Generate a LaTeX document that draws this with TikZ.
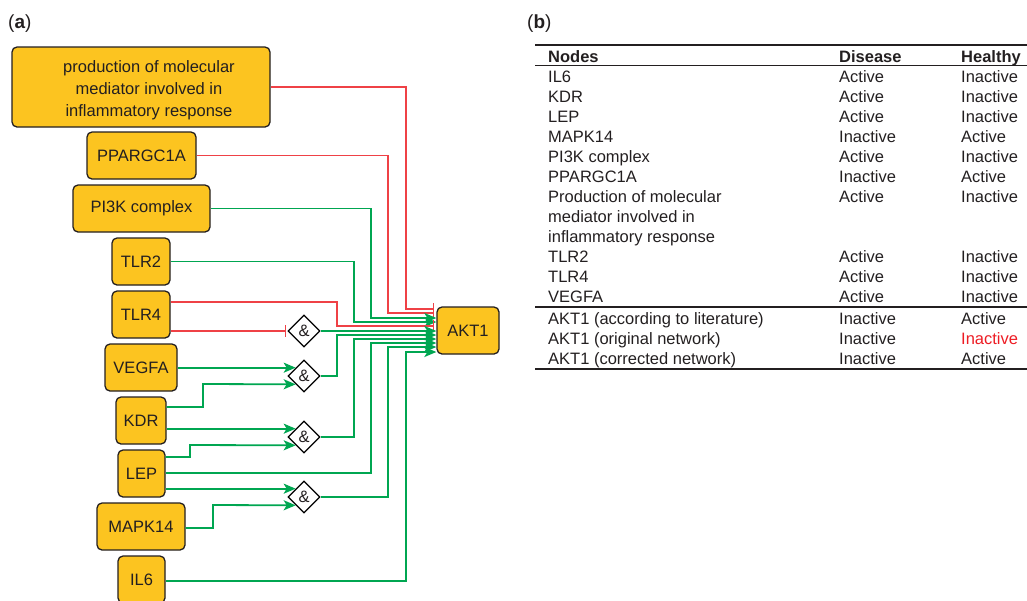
\documentclass[tikz,border=0pt]{standalone}
\usepackage{fontspec}
\setmainfont{Liberation Sans}
\usetikzlibrary{arrows.meta,shapes.geometric,calc}
\definecolor{boxfill}{RGB}{252,196,32}
\definecolor{grn}{RGB}{0,166,81}
\definecolor{rd}{RGB}{239,65,70}
\definecolor{txt}{RGB}{35,31,32}
\definecolor{tred}{RGB}{237,28,36}
\begin{document}
\begin{tikzpicture}[x=1pt,y=-1pt,
  font=\fontsize{16.5}{22}\selectfont, text=txt,
  gene/.style={draw=txt, line width=1.3pt, fill=boxfill, rounded corners=5pt,
    minimum height=47pt, inner sep=0pt, align=center},
  andgate/.style={diamond, draw=black, line width=1.3pt, fill=white,
    minimum width=32pt, minimum height=32pt, inner sep=0pt},
  act/.style={grn, line width=1.8pt, -{Stealth[length=12pt,width=10pt,inset=3pt]}},
  inh/.style={rd, line width=1.8pt, -{Bar[width=12pt,line width=1.6pt]}},
  cell/.style={anchor=base west, inner sep=0pt},
  rulel/.style={line width=1.7pt, draw=txt}]
\useasboundingbox (0,0) rectangle (1027,600);

% panel labels
\node[anchor=base west, inner sep=0pt, font=\fontsize{19}{22}\selectfont] (la) at (8,28) {(\textbf{a})};
\node[anchor=base west, inner sep=0pt, font=\fontsize{19}{22}\selectfont] (lb) at (527,28) {(\textbf{b})};

% genes
\node[gene, minimum width=258pt, minimum height=80pt] (big) at (141,87) {\rule{0pt}{18pt}\hspace*{16pt}production of molecular\\\hspace*{16pt}mediator involved in\\\hspace*{16pt}inflammatory response};
\node[gene, minimum width=109pt] (ppar) at (141.5,155.5) {PPARGC1A};
\node[gene, minimum width=137pt] (pi3k) at (141.5,208.5) {PI3K complex};
\node[gene, minimum width=58pt] (tlr2) at (141,261.5) {TLR2};
\node[gene, minimum width=58pt] (tlr4) at (141,314.5) {TLR4};
\node[gene, minimum width=72pt] (vegfa) at (141,367.5) {VEGFA};
\node[gene, minimum width=50pt] (kdr) at (141,420.5) {KDR};
\node[gene, minimum width=47pt] (lep) at (141.5,473.5) {LEP};
\node[gene, minimum width=88pt] (mapk) at (141,526.5) {MAPK14};
\node[gene, minimum width=47pt] (il6) at (141.5,579.5) {IL6};
\node[gene, minimum width=62pt] (akt) at (468,330.5) {AKT1};

% and gates
\node[andgate] (g1) at (304,331) {\&};
\node[andgate] (g2) at (304,376) {\&};
\node[andgate] (g3) at (304,437) {\&};
\node[andgate] (g4) at (304,497) {\&};
\foreach \g in {g2,g3,g4}{
  \coordinate (\g a) at ($(\g.west)!0.5!(\g.north)$);
  \coordinate (\g b) at ($(\g.west)!0.5!(\g.south)$);
}

% entry points on AKT1
\coordinate (e1) at ([shift={(-2,-21.5)}]akt.west);
\coordinate (e2) at ([shift={(-2,-17.5)}]akt.west);
\coordinate (e3) at ([shift={(0,-12.5)}]akt.west);
\coordinate (e4) at ([shift={(0,-8.5)}]akt.west);
\coordinate (e5) at ([shift={(-2,-4.5)}]akt.west);
\coordinate (e6) at ([shift={(0,0.5)}]akt.west);
\coordinate (e7) at ([shift={(0,4.5)}]akt.west);
\coordinate (e8) at ([shift={(0,8.5)}]akt.west);
\coordinate (e9) at ([shift={(0,12.5)}]akt.west);
\coordinate (e10) at ([shift={(0,16.5)}]akt.west);
\coordinate (e11) at ([shift={(0,21.5)}]akt.west);

% connectors to AKT1
\draw[inh] (big.east) -| (406,309) -- (e1);
\draw[inh] (ppar.east) -| (388,313) -- (e2);
\draw[act] (pi3k.east) -| (371,318) -- (e3);
\draw[act] (tlr2.east) -| (354,322) -- (e4);
\draw[inh] ([shift={(0,-12.5)}]tlr4.east) -| (337,326) -- (e5);
\draw[act] (g1.east) -- (e6);
\draw[act] (g2.east) -| (337,335) -- (e7);
\draw[act] (g3.east) -| (354,339) -- (e8);
\draw[act] ([shift={(0,-0.5)}]lep.east) -| (371,343) -- (e9);
\draw[act] (g4.east) -| (388,347) -- (e10);
\draw[act] ([shift={(0,1.5)}]il6.east) -| (406,352) -- (e11);

% connectors to gates
\draw[inh] (tlr4.east |- g1.west) -- ([xshift=-1pt]g1.west);
\draw[act] (vegfa.east |- g2a) -- (g2a);
\draw[act] ([shift={(0,-13.5)}]kdr.east) -| (203,384) -- (g2b);
\draw[act] (kdr.east |- g3a) -- (g3a);
\draw[act] ([shift={(0,-16.5)}]lep.east) -| (190,445) -- (g3b);
\draw[act] (lep.east |- g4a) -- (g4a);
\draw[act] ([shift={(0,1.5)}]mapk.east) -| (213,505) -- (g4b);

% table
\coordinate (rl) at (535,0);
\coordinate (rr) at (1027,0);
\draw[rulel, line width=1.9pt] (rl |- 0,45) -- (rr |- 0,45);
\draw[rulel] (rl |- 0,65.5) -- (rr |- 0,65.5);
\draw[rulel] (rl |- 0,307) -- (rr |- 0,307);
\draw[rulel, line width=1.9pt] (rl |- 0,369) -- (rr |- 0,369);

\node[cell] (hn) at (548,62) {\textbf{Nodes}};
\node[cell] (hd) at (839,62) {\textbf{Disease}};
\node[cell] (hh) at (961,62) {\textbf{Healthy}};

\node[cell] (n1) at (548,82.7) {IL6};         \node[cell] (d1) at (839,82.7) {Active};   \node[cell] (h1) at (961,82.7) {Inactive};
\node[cell] (n2) at (548,102.7) {KDR};        \node[cell] (d2) at (839,102.7) {Active};  \node[cell] (h2) at (961,102.7) {Inactive};
\node[cell] (n3) at (548,122.7) {LEP};        \node[cell] (d3) at (839,122.7) {Active};  \node[cell] (h3) at (961,122.7) {Inactive};
\node[cell] (n4) at (548,142.7) {MAPK14};     \node[cell] (d4) at (839,142.7) {Inactive};\node[cell] (h4) at (961,142.7) {Active};
\node[cell] (n5) at (548,162.7) {PI3K complex};\node[cell] (d5) at (839,162.7) {Active}; \node[cell] (h5) at (961,162.7) {Inactive};
\node[cell] (n6) at (548,182.7) {PPARGC1A};   \node[cell] (d6) at (839,182.7) {Inactive};\node[cell] (h6) at (961,182.7) {Active};
\node[cell] (n7) at (548,202.7) {\parbox[t]{240pt}{\fontsize{16.5}{20}\selectfont\raggedright Production of molecular\\mediator involved in\\inflammatory response}};
\node[cell] (d7) at (839,202.7) {Active};     \node[cell] (h7) at (961,202.7) {Inactive};
\node[cell] (n8) at (548,262.7) {TLR2};       \node[cell] (d8) at (839,262.7) {Active};  \node[cell] (h8) at (961,262.7) {Inactive};
\node[cell] (n9) at (548,282.7) {TLR4};       \node[cell] (d9) at (839,282.7) {Active};  \node[cell] (h9) at (961,282.7) {Inactive};
\node[cell] (n10) at (548,302.7) {VEGFA};     \node[cell] (d10) at (839,302.7) {Active}; \node[cell] (h10) at (961,302.7) {Inactive};
\node[cell] (n11) at (548,324.5) {AKT1 (according to literature)}; \node[cell] (d11) at (839,324.5) {Inactive}; \node[cell] (h11) at (961,324.5) {Active};
\node[cell] (n12) at (548,344.5) {AKT1 (original network)};        \node[cell] (d12) at (839,344.5) {Inactive}; \node[cell, text=tred] (h12) at (961,344.5) {Inactive};
\node[cell] (n13) at (548,364.5) {AKT1 (corrected network)};       \node[cell] (d13) at (839,364.5) {Inactive}; \node[cell] (h13) at (961,364.5) {Active};
\end{tikzpicture}
\end{document}
